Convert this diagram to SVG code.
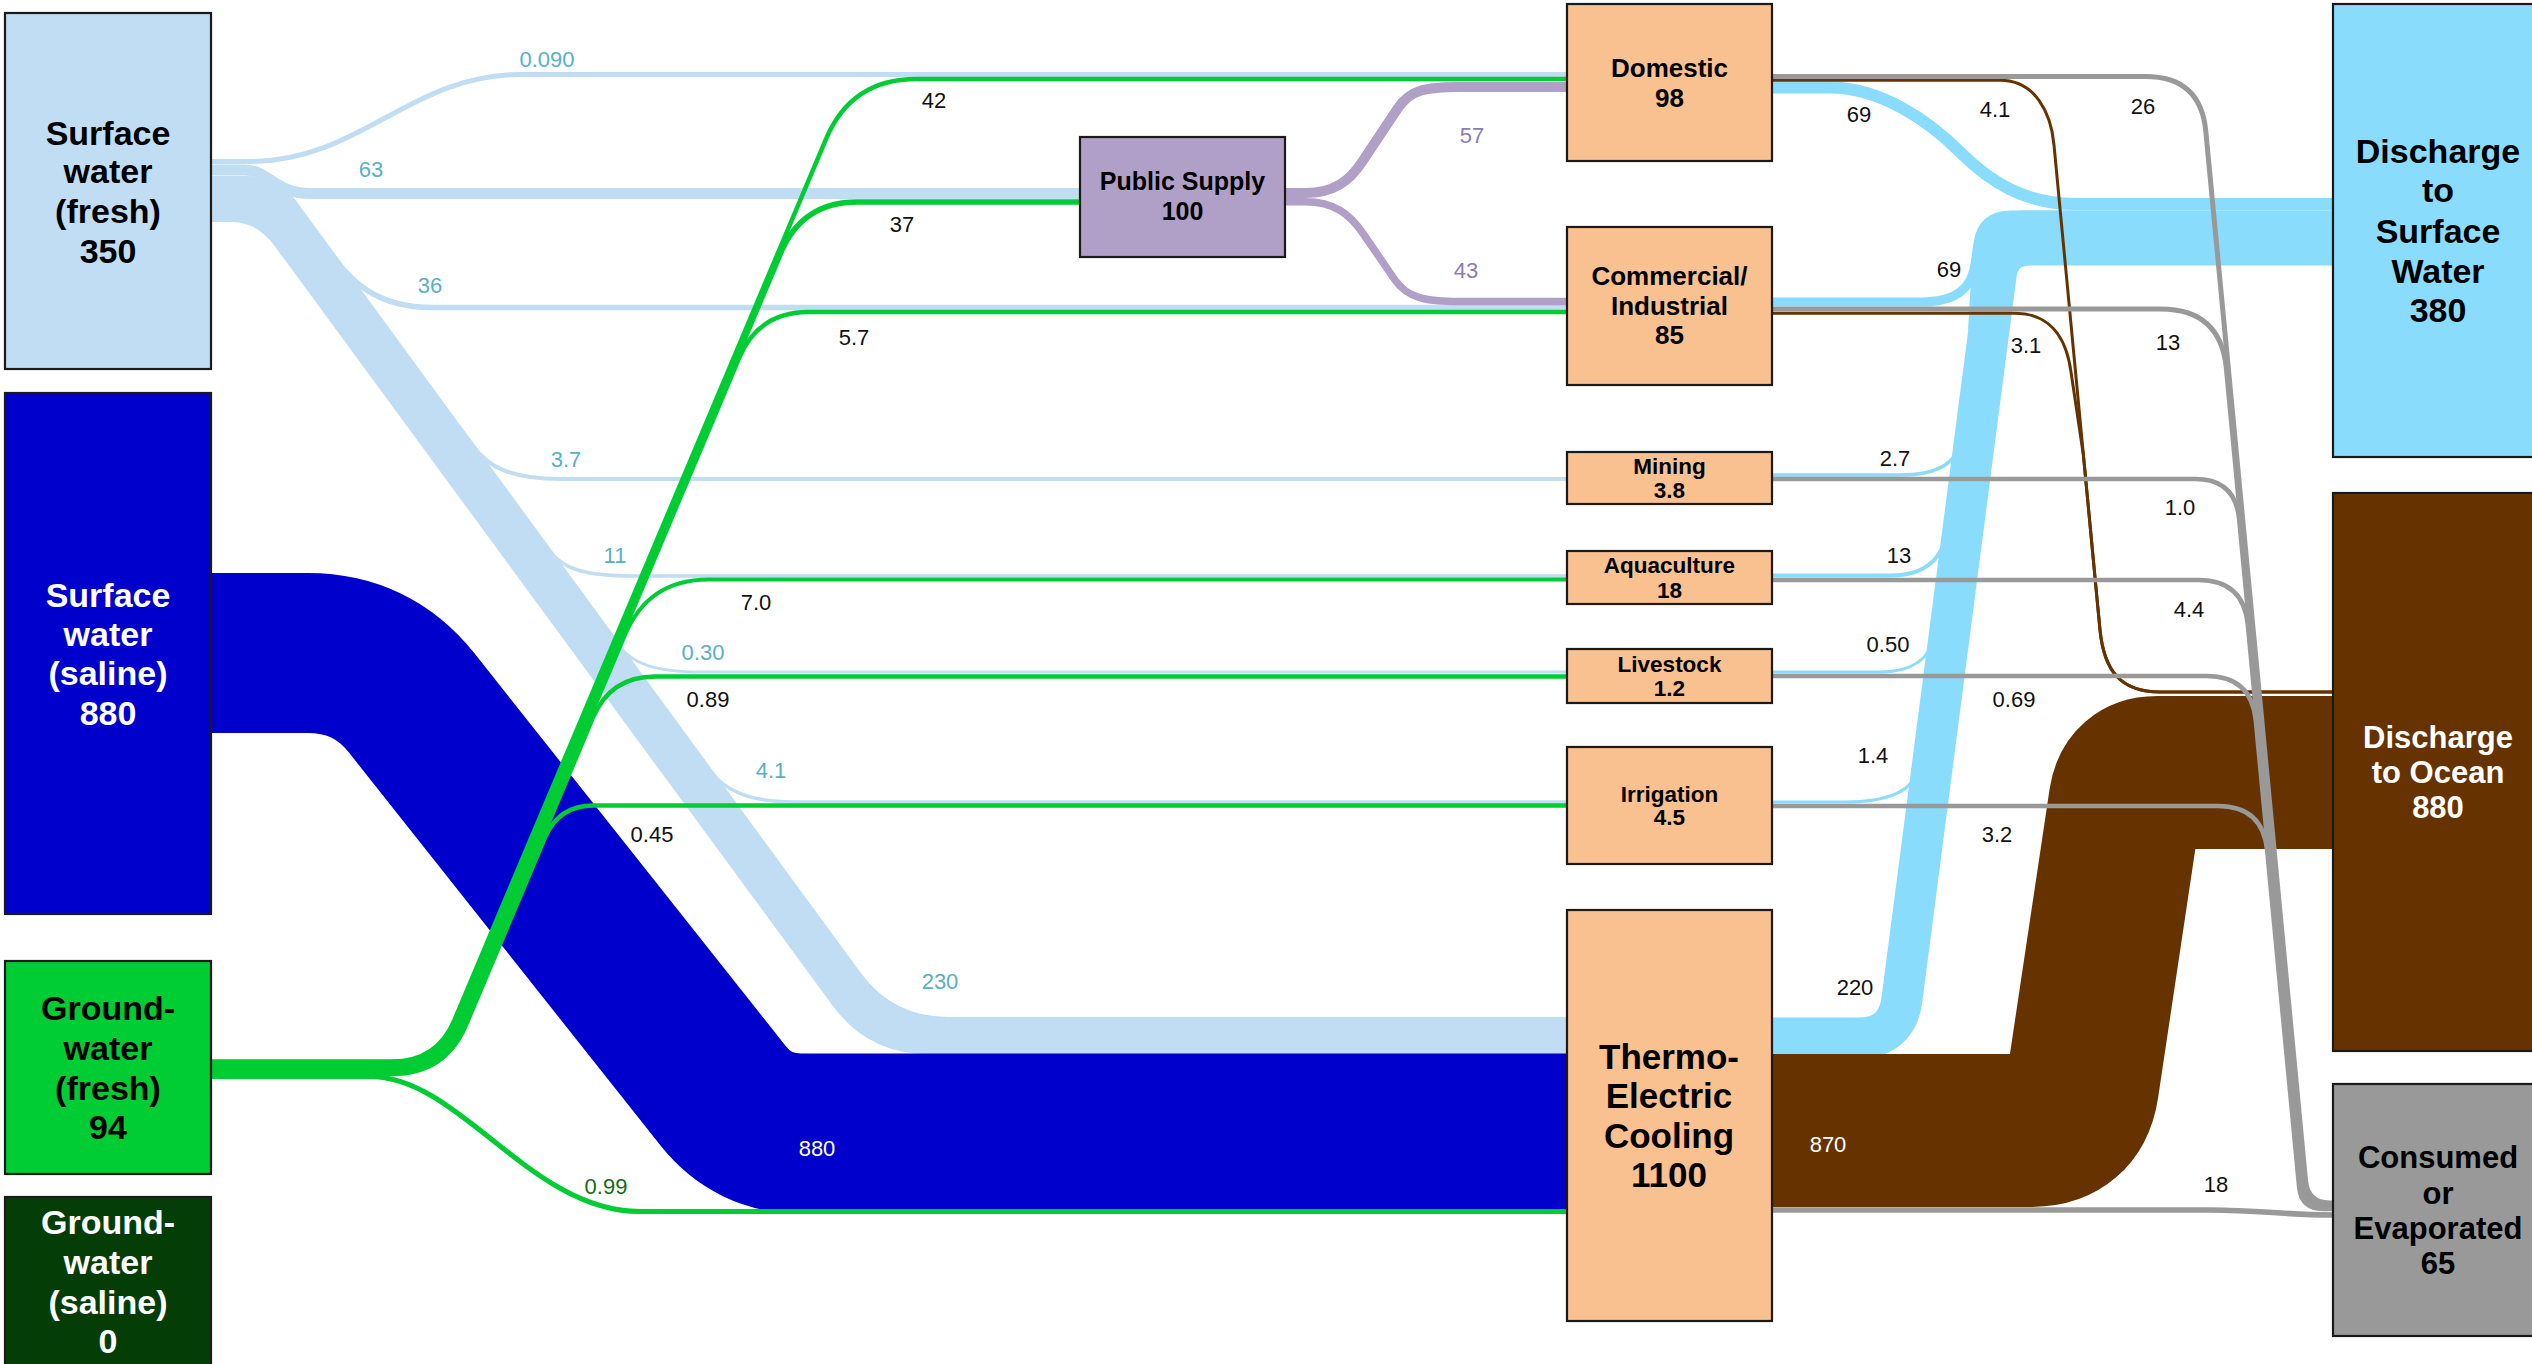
<svg xmlns="http://www.w3.org/2000/svg" width="2532" height="1364" viewBox="0 0 2532 1364">
<style>
.flow{fill:none;stroke-linecap:butt;stroke-linejoin:round}
.sf{stroke:#C1DDF3}.ss{stroke:#0000CC}.gf{stroke:#00CC33}.ps{stroke:#B09FC6}.ds{stroke:#8ADCFC}.br{stroke:#663300}.cg{stroke:#999999}
.node rect{stroke:#1a1a1a;stroke-width:2.2}
.nt{font-family:"Liberation Sans",Arial,sans-serif;font-weight:bold;text-anchor:middle;fill:#000}
.nw{fill:#fff}
.lbl{font-family:"Liberation Sans",Arial,sans-serif;font-size:22px;text-anchor:middle;fill:#111}
.teal{fill:#58B0C6}.pur{fill:#8A7DB2}.dg{fill:#176B17}.wh{fill:#fff}
</style>
<rect width="2532" height="1364" fill="#fff"/>
<g id="connectors">
  <!-- surface water (fresh) -->
  <path fill="#C1DDF3" d="M211,176 L248,176 Q278,176 295.7,200.2 L860.5,972.6 Q893,1017 948,1017 L1567,1017 L1567,1054 L928,1054 Q868,1054 832.5,1005.6 L274.8,246.2 Q257,222 232,222 L211,222 Z"/>
  <path class="flow sf" stroke-width="5" d="M211,161.5 H250 C360,161.5 410,74.5 520,74.5 H1567"/>
  <path class="flow sf" stroke-width="11" d="M211,170 H245 C268,170 275,193.5 310,193.5 H1080"/>
  <path class="flow sf" stroke-width="5.5" d="M319.8,238.2 L333.4,256.8 C350,279.5 375,307.5 432,307.5 H1567"/>
  <path class="flow sf" stroke-width="4" d="M458.5,426.2 L473.1,446.2 C488,466.5 510,479 560,479 H1567"/>
  <path class="flow sf" stroke-width="3.5" d="M535.3,531.2 L549.9,551.2 C563,569 585,576 633,576 H1567"/>
  <path class="flow sf" stroke-width="3" d="M604.7,626.2 L619.3,646.2 C632,663.5 655,672 702,672 H1567"/>
  <path class="flow sf" stroke-width="3.5" d="M696.1,751.2 L710.7,771.2 C723,788 745,802 794,802 H1567"/>
  <!-- surface water (saline) -->
  <path class="flow ss" stroke-width="160" d="M211,653 H308 Q372,653 411.8,703.1 L723.2,1095.9 Q753.1,1133.5 801.1,1133.5 H1567"/>
  <!-- groundwater (fresh) -->
  <path class="flow gf" stroke-width="4.5" d="M211,1061.5 H392 Q437,1061.5 454.5,1020 L826.1,138.9 Q851.3,79 916.3,79 H1567"/>
  <path class="flow gf" stroke-width="5.5" d="M211,1064 H392 Q438.7,1064 456.8,1021 L780.8,252.7 Q802.2,202 857.2,202 H1080"/>
  <path class="flow gf" stroke-width="4.5" d="M211,1066.5 H392 Q440.3,1066.5 459.1,1022 L739.1,358.1 Q758.5,312 808.5,312 H1567"/>
  <path class="flow gf" stroke-width="4" d="M211,1069 H392 Q442,1069 461.4,1022.9 L625.1,634.8 Q648.4,579.5 708.4,579.5 H1567"/>
  <path class="flow gf" stroke-width="4.5" d="M211,1071.5 H392 Q443.7,1071.5 463.8,1023.9 L592.8,718 Q610.2,676.5 655.2,676.5 H1567"/>
  <path class="flow gf" stroke-width="4.5" d="M211,1074 H392 Q445.3,1074 466,1024.9 L544.9,837.7 Q558.5,805.5 593.5,805.5 H1567"/>
  <path class="flow gf" stroke-width="5" d="M211,1076.5 H370 C460,1076.5 530,1211.5 640,1211.5 H1567"/>
  <!-- public supply deliveries -->
  <path class="flow ps" stroke-width="10" d="M1285,193 H1305 C1335,193 1350,180 1362,162 L1398,108 C1410,90 1425,87 1460,87 H1567"/>
  <path class="flow ps" stroke-width="7.5" d="M1285,201.7 H1305 C1335,201.7 1350,215 1362,232 L1395,280 C1407,297.5 1425,301.5 1460,301.5 H1567"/>
  <!-- discharge to surface water -->
  <path class="flow ds" stroke-width="12" d="M1772,87.5 H1830 C1880,87.5 1928,120 1960,152 C1990,182 2025,204 2075,204 H2333"/>
  <path class="flow ds" stroke-width="9" d="M1772,302 H1920 C1955,302 1972,290 1975.4,262 L1977.7,244.8 Q1981.5,215 2011.5,215 H2333"/>
  <path class="flow ds" stroke-width="3.5" d="M1772,475 H1900 C1935,475 1957,465 1960.5,440 L1985,249.8 Q1988.6,222 2016.6,222 H2333"/>
  <path class="flow ds" stroke-width="4" d="M1772,575.5 H1890 C1925,575.5 1945,560 1950,520 L1985,249.8 Q1988.6,222 2016.6,222 H2333"/>
  <path class="flow ds" stroke-width="3" d="M1772,672 H1880 C1910,672 1932,660 1936,630 L1985,249.8 Q1988.6,222 2016.6,222 H2333"/>
  <path class="flow ds" stroke-width="3" d="M1772,802 H1845 C1885,802 1912,792 1918,770 L1985,249.8 Q1988.6,222 2016.6,222 H2333"/>
  <path class="flow ds" stroke-width="41" d="M1772,1038 H1858 Q1897.3,1038 1902,999 L1996,275.8 Q2000,245 2031,245 H2333"/>
  <!-- merged band where the streams turn into the discharge -->
  <path fill="#8ADCFC" d="M1968,330 L1972,262 Q1978,211 2025,210.5 L2333,210.5 L2333,250 L2030,250 Q2005,250 2000,280 L1995,330 Z"/>
  <!-- discharge to ocean -->
  <path class="flow br" stroke-width="153" d="M1772,1130.5 H2030.8 Q2075.8,1130.5 2082.5,1086 L2125.3,800.2 Q2129.5,772.5 2157.5,772.5 H2333"/>
  <path class="flow br" stroke-width="3" d="M1772,80.3 H2000 C2035,80.3 2051,112 2054,145 L2100,630 C2104,670 2120,692 2160,692 H2333"/>
  <path class="flow br" stroke-width="3" d="M1772,313.3 H2015 C2048,313.3 2066,335 2071,372 L2083.4,455 L2100,630 C2104,670 2120,692 2160,692 H2333"/>
  <!-- consumed or evaporated -->
  <path class="flow cg" stroke-width="5" d="M1772,76.5 H2145.6 Q2200.6,76.5 2205.8,131.2 L2305.6,1181.1 Q2307.7,1203 2329.7,1203 H2333"/>
  <path class="flow cg" stroke-width="5" d="M1772,309 H2160.7 Q2220.7,309 2226.4,368.7 L2303.7,1183.1 Q2305.8,1205 2327.8,1205 H2333"/>
  <path class="flow cg" stroke-width="4.5" d="M1772,479 H2195.3 Q2235.3,479 2239.1,518.8 L2302.3,1184.1 Q2304.4,1206 2326.4,1206 H2333"/>
  <path class="flow cg" stroke-width="4.5" d="M1772,580 H2198.5 Q2243.5,580 2247.8,624.8 L2300.9,1185.1 Q2303,1207 2325,1207 H2333"/>
  <path class="flow cg" stroke-width="4.5" d="M1772,676 H2206.5 Q2251.5,676 2255.8,720.8 L2300,1186.1 Q2302.1,1208 2324.1,1208 H2333"/>
  <path class="flow cg" stroke-width="4.5" d="M1772,806 H2217.9 Q2262.9,806 2267.2,850.8 L2299.1,1187.1 Q2301.2,1209 2323.2,1209 H2333"/>
  <path class="flow cg" stroke-width="5.5" d="M1772,1210 H2210 C2260,1210 2285,1215 2333,1215"/>
  <!-- flow values -->
  <g class="lbl">
    <text class="teal" x="547" y="67">0.090</text>
    <text class="teal" x="371" y="177">63</text>
    <text class="teal" x="430" y="293">36</text>
    <text class="teal" x="566" y="467">3.7</text>
    <text class="teal" x="615" y="563">11</text>
    <text class="teal" x="703" y="660">0.30</text>
    <text class="teal" x="771" y="778">4.1</text>
    <text class="teal" x="940" y="989">230</text>
    <text x="934" y="108">42</text>
    <text x="902" y="232">37</text>
    <text x="854" y="345">5.7</text>
    <text x="756" y="610">7.0</text>
    <text x="708" y="707">0.89</text>
    <text x="652" y="842">0.45</text>
    <text class="dg" x="606" y="1194">0.99</text>
    <text class="wh" x="817" y="1156">880</text>
    <text class="pur" x="1472" y="143">57</text>
    <text class="pur" x="1466" y="278">43</text>
    <text x="1859" y="122">69</text>
    <text x="1995" y="117">4.1</text>
    <text x="2143" y="114">26</text>
    <text x="1949" y="277">69</text>
    <text x="2026" y="353">3.1</text>
    <text x="2168" y="350">13</text>
    <text x="1895" y="466">2.7</text>
    <text x="2180" y="515">1.0</text>
    <text x="1899" y="563">13</text>
    <text x="2189" y="617">4.4</text>
    <text x="1888" y="652">0.50</text>
    <text x="2014" y="707">0.69</text>
    <text x="1873" y="763">1.4</text>
    <text x="1997" y="842">3.2</text>
    <text x="1855" y="995">220</text>
    <text class="wh" x="1828" y="1152">870</text>
    <text x="2216" y="1192">18</text>
  </g>
</g>
<g id="sw-fresh" class="node">
  <rect x="5" y="13" width="206" height="356" fill="#C1DDF3"/>
  <text class="nt" font-size="34"><tspan x="108" y="145">Surface</tspan><tspan x="108" y="183">water</tspan><tspan x="108" y="223">(fresh)</tspan><tspan x="108" y="263">350</tspan></text>
</g>
<g id="sw-saline" class="node">
  <rect x="5" y="393" width="206" height="521" fill="#0000CC"/>
  <text class="nt nw" font-size="34"><tspan x="108" y="607">Surface</tspan><tspan x="108" y="646">water</tspan><tspan x="108" y="685">(saline)</tspan><tspan x="108" y="725">880</tspan></text>
</g>
<g id="gw-fresh" class="node">
  <rect x="5" y="961" width="206" height="213" fill="#00CC33"/>
  <text class="nt" font-size="34"><tspan x="108" y="1020">Ground-</tspan><tspan x="108" y="1060">water</tspan><tspan x="108" y="1100">(fresh)</tspan><tspan x="108" y="1139">94</tspan></text>
</g>
<g id="gw-saline" class="node">
  <rect x="5" y="1197" width="206" height="190" fill="#053D07"/>
  <text class="nt nw" font-size="34"><tspan x="108" y="1234">Ground-</tspan><tspan x="108" y="1274">water</tspan><tspan x="108" y="1314">(saline)</tspan><tspan x="108" y="1353">0</tspan></text>
</g>
<g id="public-supply" class="node">
  <rect x="1080" y="137" width="205" height="120" fill="#B09FC6"/>
  <text class="nt" font-size="25"><tspan x="1182.5" y="190">Public Supply</tspan><tspan x="1182.5" y="220">100</tspan></text>
</g>
<g id="domestic" class="node">
  <rect x="1567" y="4" width="205" height="157" fill="#F9C090"/>
  <text class="nt" font-size="26"><tspan x="1669.5" y="77">Domestic</tspan><tspan x="1669.5" y="107">98</tspan></text>
</g>
<g id="commercial-industrial" class="node">
  <rect x="1567" y="227" width="205" height="158" fill="#F9C090"/>
  <text class="nt" font-size="26"><tspan x="1669.5" y="285">Commercial/</tspan><tspan x="1669.5" y="315">Industrial</tspan><tspan x="1669.5" y="344">85</tspan></text>
</g>
<g id="mining" class="node">
  <rect x="1567" y="452" width="205" height="52" fill="#F9C090"/>
  <text class="nt" font-size="22.5"><tspan x="1669.5" y="474">Mining</tspan><tspan x="1669.5" y="498">3.8</tspan></text>
</g>
<g id="aquaculture" class="node">
  <rect x="1567" y="551" width="205" height="53" fill="#F9C090"/>
  <text class="nt" font-size="22.5"><tspan x="1669.5" y="573">Aquaculture</tspan><tspan x="1669.5" y="598">18</tspan></text>
</g>
<g id="livestock" class="node">
  <rect x="1567" y="649" width="205" height="54" fill="#F9C090"/>
  <text class="nt" font-size="22.5"><tspan x="1669.5" y="672">Livestock</tspan><tspan x="1669.5" y="696">1.2</tspan></text>
</g>
<g id="irrigation" class="node">
  <rect x="1567" y="747" width="205" height="117" fill="#F9C090"/>
  <text class="nt" font-size="22.5"><tspan x="1669.5" y="802">Irrigation</tspan><tspan x="1669.5" y="825">4.5</tspan></text>
</g>
<g id="thermoelectric" class="node">
  <rect x="1567" y="910" width="205" height="411" fill="#F9C090"/>
  <text class="nt" font-size="35"><tspan x="1669" y="1069">Thermo-</tspan><tspan x="1669" y="1108">Electric</tspan><tspan x="1669" y="1148">Cooling</tspan><tspan x="1669" y="1187">1100</tspan></text>
</g>
<g id="discharge-surface" class="node">
  <rect x="2333" y="4" width="210" height="453" fill="#8ADCFC"/>
  <text class="nt" font-size="34"><tspan x="2438" y="163">Discharge</tspan><tspan x="2438" y="202">to</tspan><tspan x="2438" y="243">Surface</tspan><tspan x="2438" y="283">Water</tspan><tspan x="2438" y="322">380</tspan></text>
</g>
<g id="discharge-ocean" class="node">
  <rect x="2333" y="493" width="210" height="558" fill="#663300"/>
  <text class="nt nw" font-size="31"><tspan x="2438" y="748">Discharge</tspan><tspan x="2438" y="783">to Ocean</tspan><tspan x="2438" y="818">880</tspan></text>
</g>
<g id="consumed" class="node">
  <rect x="2333" y="1084" width="210" height="252" fill="#999999"/>
  <text class="nt" font-size="31"><tspan x="2438" y="1168">Consumed</tspan><tspan x="2438" y="1204">or</tspan><tspan x="2438" y="1239">Evaporated</tspan><tspan x="2438" y="1274">65</tspan></text>
</g>
</svg>
